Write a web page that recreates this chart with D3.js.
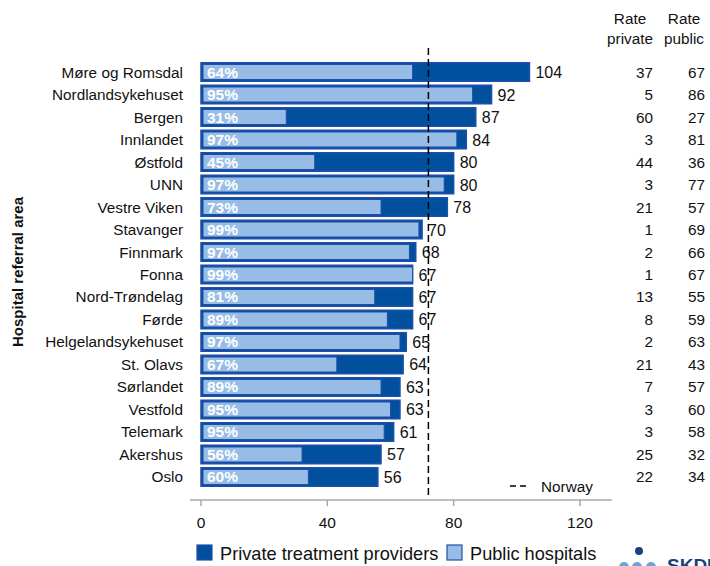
<!DOCTYPE html>
<html lang="en">
<head>
  <meta charset="UTF-8" />
  <title>Hospital referral areas</title>
  <script src="https://d3js.org/d3.v7.min.js"></script>
  <style>
    body { margin: 0; background: #fff; }
    svg { display: block; font-family: "Liberation Sans", Arial, sans-serif; }
  </style>
</head>
<body>
  <svg id="chart" width="710" height="566"></svg>
  <script>
    const areas = ["Møre og Romsdal", "Nordlandsykehuset", "Bergen", "Innlandet", "Østfold", "UNN",
      "Vestre Viken", "Stavanger", "Finnmark", "Fonna", "Nord-Trøndelag", "Førde", "Helgelandsykehuset",
      "St. Olavs", "Sørlandet", "Vestfold", "Telemark", "Akershus", "Oslo"];
    const totals = [104, 92, 87, 84, 80, 80, 78, 70, 68, 67, 67, 67, 65, 64, 63, 63, 61, 57, 56];
    const ratePrivate = [37, 5, 60, 3, 44, 3, 21, 1, 2, 1, 13, 8, 2, 21, 7, 3, 3, 25, 22];
    const ratePublic = [67, 86, 27, 81, 36, 77, 57, 69, 66, 67, 55, 59, 63, 43, 57, 60, 58, 32, 34];
    const publicShare = [64, 95, 31, 97, 45, 97, 73, 99, 97, 99, 81, 89, 97, 67, 89, 95, 95, 56, 60];
    const norway = 72;
    const xTicks = [0, 40, 80, 120];

    const darkBlue = "#00509E";
    const lightBlue = "#97BDE6";
    const edge = "#1F4FA8";

    const svg = d3.select("#chart");

    const x = d3.scaleLinear().domain([0, 120]).range([201, 580]);
    const y = d3.scaleBand().domain(areas).range([62, 487]).paddingInner(0.11).paddingOuter(0);

    const rows = areas.map((a, i) => ({
      area: a, total: totals[i], priv: ratePrivate[i], pub: ratePublic[i], share: publicShare[i]
    }));

    // whole bar (private part shows through)
    svg.append("g")
      .selectAll("rect")
      .data(rows)
      .join("rect")
      .attr("x", x(0))
      .attr("y", d => y(d.area) + 0.75)
      .attr("width", d => x(d.total) - x(0))
      .attr("height", y.bandwidth() - 1.5)
      .attr("fill", darkBlue)
      .attr("stroke", edge)
      .attr("stroke-width", 1.5);

    // public hospitals part
    svg.append("g")
      .selectAll("rect")
      .data(rows)
      .join("rect")
      .attr("x", x(0) + 2)
      .attr("y", d => y(d.area) + 2.5)
      .attr("width", d => x(d.pub) - x(0) - 2)
      .attr("height", y.bandwidth() - 5)
      .attr("fill", lightBlue)
      .attr("stroke", edge)
      .attr("stroke-width", 1);

    // percentage labels
    svg.append("g")
      .selectAll("text")
      .data(rows)
      .join("text")
      .attr("x", x(0) + 6)
      .attr("y", d => y(d.area) + y.bandwidth() / 2 + 5.5)
      .attr("fill", "#fff")
      .attr("font-weight", "bold")
      .attr("font-size", 15.5)
      .text(d => d.share + "%");

    // norway line
    svg.append("line")
      .attr("x1", x(norway)).attr("x2", x(norway))
      .attr("y1", 48).attr("y2", 498)
      .attr("stroke", "#000")
      .attr("stroke-width", 1.5)
      .attr("stroke-dasharray", "7,4");

    // total labels
    svg.append("g")
      .selectAll("text")
      .data(rows)
      .join("text")
      .attr("x", d => x(d.total) + 6)
      .attr("y", d => y(d.area) + y.bandwidth() / 2 + 6)
      .attr("font-size", 16)
      .attr("fill", "#111")
      .text(d => d.total);

    // category labels
    svg.append("g")
      .selectAll("text")
      .data(rows)
      .join("text")
      .attr("x", 183)
      .attr("y", d => y(d.area) + y.bandwidth() / 2 + 5.5)
      .attr("text-anchor", "end")
      .attr("font-size", 15.3)
      .attr("fill", "#111")
      .text(d => d.area);

    // rate columns
    const cols = [
      { head: ["Rate", "private"], key: "priv", cx: 630, right: 653 },
      { head: ["Rate", "public"], key: "pub", cx: 684, right: 705 }
    ];
    cols.forEach(c => {
      svg.append("text")
        .attr("x", c.cx).attr("y", 24)
        .attr("text-anchor", "middle").attr("font-size", 15.3).attr("fill", "#111")
        .text(c.head[0]);
      svg.append("text")
        .attr("x", c.cx).attr("y", 44)
        .attr("text-anchor", "middle").attr("font-size", 15.3).attr("fill", "#111")
        .text(c.head[1]);
      svg.append("g")
        .selectAll("text")
        .data(rows)
        .join("text")
        .attr("x", c.right)
        .attr("y", d => y(d.area) + y.bandwidth() / 2 + 5.5)
        .attr("text-anchor", "end")
        .attr("font-size", 15.3)
        .attr("fill", "#111")
        .text(d => d[c.key]);
    });

    // x axis
    const axis = svg.append("g").attr("transform", "translate(0,500)");
    axis.append("line")
      .attr("x1", 190).attr("x2", 612)
      .attr("stroke", "#a8a8a8").attr("stroke-width", 1.5);
    axis.selectAll("line.tick")
      .data(xTicks)
      .join("line")
      .attr("class", "tick")
      .attr("x1", d => x(d)).attr("x2", d => x(d))
      .attr("y1", 0).attr("y2", 6)
      .attr("stroke", "#a8a8a8").attr("stroke-width", 1.5);
    axis.selectAll("text")
      .data(xTicks)
      .join("text")
      .attr("x", d => x(d))
      .attr("y", 28)
      .attr("text-anchor", "middle")
      .attr("font-size", 15.5)
      .attr("fill", "#111")
      .text(d => d);

    // y title
    svg.append("text")
      .attr("transform", "translate(23,272) rotate(-90)")
      .attr("text-anchor", "middle")
      .attr("font-size", 15)
      .attr("font-weight", "bold")
      .attr("fill", "#111")
      .text("Hospital referral area");

    // norway legend
    svg.append("line")
      .attr("x1", 510).attr("x2", 527).attr("y1", 486).attr("y2", 486)
      .attr("stroke", "#000").attr("stroke-width", 1.5).attr("stroke-dasharray", "6,4");
    svg.append("text")
      .attr("x", 541).attr("y", 491.5)
      .attr("font-size", 15.3).attr("fill", "#111")
      .text("Norway");

    // bottom legend
    const legend = [
      { label: "Private treatment providers", fill: darkBlue, x: 197 },
      { label: "Public hospitals", fill: lightBlue, x: 447 }
    ];
    const lg = svg.append("g").selectAll("g").data(legend).join("g");
    lg.append("rect")
      .attr("x", d => d.x).attr("y", 545)
      .attr("width", 15).attr("height", 15)
      .attr("fill", d => d.fill)
      .attr("stroke", edge).attr("stroke-width", 1.2);
    lg.append("text")
      .attr("x", d => d.x + 23).attr("y", 560)
      .attr("font-size", 18.2).attr("fill", "#111")
      .text(d => d.label);

    // logo
    const logo = svg.append("g");
    logo.append("circle").attr("cx", 639).attr("cy", 551).attr("r", 4).attr("fill", "#1B3F7E");
    [624, 637, 651].forEach(cx => {
      logo.append("circle").attr("cx", cx).attr("cy", 567).attr("r", 5).attr("fill", "#6AA5DC");
    });
    logo.append("text")
      .attr("x", 667).attr("y", 572)
      .attr("font-size", 19).attr("font-weight", "bold").attr("fill", "#1B3F7E")
      .text("SKDE");
  </script>
</body>
</html>
